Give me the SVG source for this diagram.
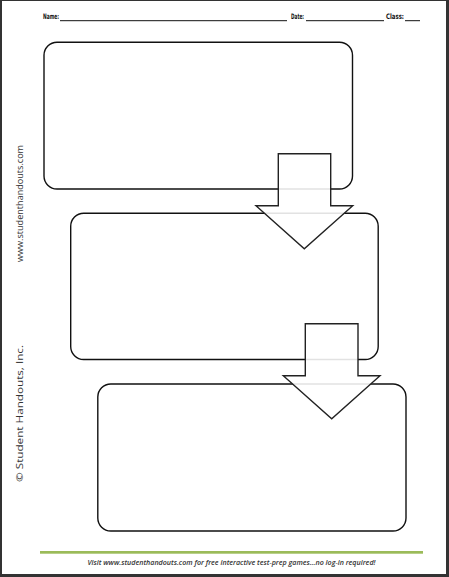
<svg xmlns="http://www.w3.org/2000/svg" width="449" height="577" viewBox="0 0 449 577">
<style>
.box{fill:none;stroke:#111;stroke-width:1.4}
.arrow{fill:#fff;fill-opacity:0.88;stroke:#222;stroke-width:1.4;stroke-linejoin:miter}
.hdr{font-family:"DejaVu Sans Condensed","DejaVu Sans",sans-serif;font-stretch:condensed;font-weight:bold;font-size:7.5px;fill:#111}
.uline{stroke:#111;stroke-width:1}
.side{font-family:"Open Sans","Liberation Sans",sans-serif;font-size:8.5px;fill:#333}
.foot{font-family:"Open Sans","Liberation Sans",sans-serif;font-style:italic;font-weight:600;font-size:7.5px;fill:#333}
</style>
<rect x="0" y="0" width="449" height="577" fill="#ffffff"/>
<g id="frame" fill="#333">
<rect x="0" y="0" width="449" height="1"/>
<rect x="0" y="0" width="2" height="577"/>
<rect x="446" y="0" width="3" height="577"/>
<rect x="0" y="574" width="449" height="3"/>
</g>
<g id="header">
<text class="hdr" x="43" y="18.7" textLength="16" lengthAdjust="spacingAndGlyphs">Name:</text>
<line class="uline" x1="60" y1="20.7" x2="287" y2="20.7"/>
<text class="hdr" x="291" y="18.7" textLength="13" lengthAdjust="spacingAndGlyphs">Date:</text>
<line class="uline" x1="306" y1="20.7" x2="384" y2="20.7"/>
<text class="hdr" x="386" y="18.7" textLength="18" lengthAdjust="spacingAndGlyphs">Class:</text>
<line class="uline" x1="405" y1="20.7" x2="420" y2="20.7"/>
</g>
<g id="side-text">
<text class="side" transform="translate(23,262) rotate(-90)" textLength="117" lengthAdjust="spacingAndGlyphs">www.studenthandouts.com</text>
<text class="side" transform="translate(23,482) rotate(-90)" textLength="137" lengthAdjust="spacingAndGlyphs">© Student Handouts, Inc.</text>
</g>
<g id="box1"><rect class="box" x="44" y="42.3" width="308.5" height="146.7" rx="13" ry="13"/></g>
<g id="box2"><rect class="box" x="70.7" y="213.3" width="307.5" height="146.2" rx="13" ry="13"/></g>
<g id="box3"><rect class="box" x="97.8" y="384" width="308.2" height="147" rx="13" ry="13"/></g>
<g id="connectors">
<polygon class="arrow" points="278.3,153.7 330.7,153.7 330.7,205.7 352.7,205.7 304.3,248.7 256,205.7 278.3,205.7"/>
<polygon class="arrow" points="305.3,323.7 358,323.7 358,375.7 380,375.7 331.7,418.7 283.3,375.7 305.3,375.7"/>
</g>
<g id="footer">
<rect x="40" y="551" width="383" height="2.7" fill="#9bbb59"/>
<text class="foot" x="87.5" y="564.7" textLength="288" lengthAdjust="spacingAndGlyphs">Visit www.studenthandouts.com for free interactive test-prep games…no log-in required!</text>
</g>
</svg>
